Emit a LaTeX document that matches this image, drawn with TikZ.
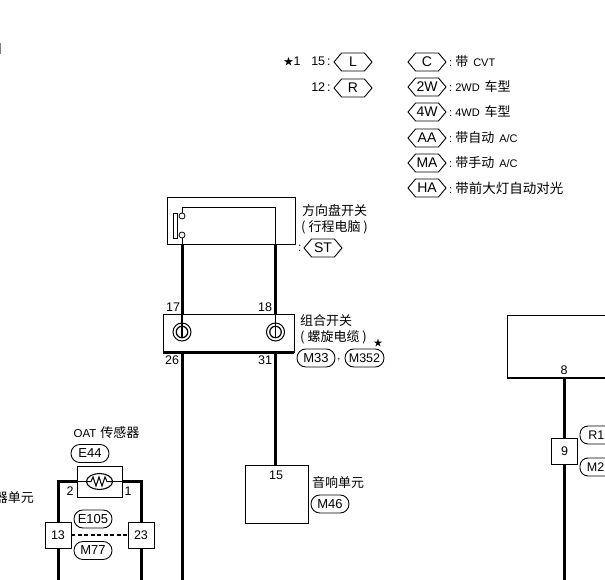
\documentclass[tikz,border=0pt]{standalone}
\usepackage{fontspec}
\setmainfont{Liberation Sans}
\newfontfamily\cjk{Noto Sans CJK SC}
\usetikzlibrary{calc, positioning, shapes.symbols, shapes.geometric}
\newcommand{\zh}[1]{{\cjk\fontsize{13}{14}\selectfont #1}}
\tikzset{
x=1pt, y=-1pt,
every node/.style={inner sep=0pt},
box/.style={draw, line width=0.9pt, fill=white},
wire/.style={line width=3pt},
thinwire/.style={line width=0.8pt},
hexa/.style={draw, line width=0.9pt, shape=signal, signal to=east and west, signal pointer angle=100, minimum width=38pt, minimum height=18pt, font=\fontsize{14}{14}\selectfont},
pill/.style={draw, line width=0.9pt, rectangle, rounded corners=8.9pt, minimum width=38pt, minimum height=18pt, font=\fontsize{13}{13}\selectfont},
pin/.style={font=\fontsize{12.5}{13}\selectfont},
note/.style={anchor=west, font=\fontsize{13}{15}\cjk},
small/.style={anchor=west, font=\fontsize{11}{11}\selectfont},
}

\begin{document}
\begin{tikzpicture}
  \useasboundingbox[fill=white] (0,0) rectangle (605,580);
  \draw[line width=1pt, gray] (0.5,43) -- (0.5,54);

  % option legend
  \node[font=\fontsize{12.5}{13}\selectfont] at (292,62) (star1){{\cjk\fontsize{10}{10}\selectfont ★}1};
  \node[pin] at (321,61) (num15){15\,:};
  \node[hexa] at (353,62) (hexL){L};
  \node[pin] at (321,87) (num12){12\,:};
  \node[hexa] at (353,88) (hexR){R};

  \foreach \y/\t/\n in {62/C/c,87/2W/tw,112/4W/fw,138/AA/aa,163/MA/ma,188/HA/ha}
  {
    \node[hexa] at (427,\y) (hex\n){\t};
  }
  \node[small] at (449,62) (txtc){:\hspace{3pt}\zh{带}\hspace{5pt}CVT};
  \node[small] at (449,87) (txttw){:\hspace{3pt}2WD\hspace{5pt}\zh{车型}};
  \node[small] at (449,112) (txtfw){:\hspace{3pt}4WD\hspace{5pt}\zh{车型}};
  \node[small] at (449,138) (txtaa){:\hspace{3pt}\zh{带自动}\hspace{5pt}A/C};
  \node[small] at (449,163) (txtma){:\hspace{3pt}\zh{带手动}\hspace{5pt}A/C};
  \node[small] at (449,188) (txtha){:\hspace{3pt}{\cjk\fontsize{13.5}{14}\selectfont 带前大灯自动对光}};

  % steering wheel switch
  \node[box, minimum width=128pt, minimum height=47pt] at (231,220.5) (swbox){};
  \draw[thinwire] (173.5,213) rectangle (177,238);
  \node[draw, thinwire, circle, minimum size=6pt] at (182,216) (swa){};
  \node[draw, thinwire, circle, minimum size=6pt] at (182,235) (swb){};
  \coordinate (swc) at (275.5,244);
  \draw[thinwire] (swa.north) |- (275.5,207) -- (swc);
  \draw[thinwire] (swb.south) -- (182,244);
  \node[note] at (302,211) (swname){方向盘开关};
  \node[note] at (301,227) (swnameb){( 行程电脑 )};
  \node[anchor=west, font=\fontsize{12}{12}\selectfont] at (298,248) (swcolon){:};
  \node[hexa] at (323,248) (hexST){ST};

  % combination switch
  \node[box, minimum width=131pt, minimum height=38pt] at (228.5,333) (cmbox){};
  \draw[line width=2.4pt] (cmbox.south west) -- (cmbox.south east);
  \foreach \x/\n in {182/a,275.5/b}
  {
    \node[draw, line width=1pt, circle, minimum size=18pt] at (\x,332) (ring\n){};
    \node[draw, line width=1.2pt, circle, minimum size=11.5pt] at (\x,332) (core\n){};
    \draw[line width=1.2pt] (\x,314) -- (\x,337.5);
  }
  \node[pin] at (173,307) (pin17){17};
  \node[pin] at (265,307) (pin18){18};
  \node[pin] at (172,360) (pin26){26};
  \node[pin] at (265,360) (pin31){31};
  \node[note] at (300,321) (cmname){组合开关};
  \node[note] at (300,337) (cmnameb){( 螺旋电缆 )};
  \node[pill] at (316,358) (m33){M33};
  \node[font=\fontsize{11}{11}\selectfont] at (339,360) (comma){,};
  \node[pill, font=\fontsize{12.5}{13}\selectfont, minimum width=39pt] at (364.5,358) (m352){M352};
  \node[font=\fontsize{9}{9}\cjk] at (378,343) (star2){★};

  % audio unit
  \node[box, minimum width=63pt, minimum height=58pt] at (276.5,494) (audio){};
  \node[pin] at (276,475) (pin15){15};
  \node[note] at (312,483) (audname){音响单元};
  \node[pill] at (330,504) (m46){M46};

  % wires
  \draw[wire] (182,244) -- (182,314);
  \draw[wire] (swc) -- (275.5,314);
  \draw[wire] (182,352) -- (182,580);
  \draw[wire] (275.5,352) -- (275.5,465);

  % OAT sensor
  \node[font=\fontsize{11.5}{12}\selectfont] at (106.5,433) (oat){OAT\hspace{4pt}\zh{传感器}};
  \node[pill] at (90,453.5) (e44){E44};
  \coordinate (ltop) at (58,481);
  \coordinate (rtop) at (141,481);
  \coordinate (lbot) at (58,580);
  \coordinate (rbot) at (141,580);
  \draw[wire] (lbot) -- (ltop) -- (rtop) -- (rbot);
  \node[box, minimum width=45pt, minimum height=31pt] at (99.5,481.5) (oatbox){};
  \draw[thinwire] (oatbox.west) -- (oatbox.east);
  \node[draw, line width=1.1pt, fill=white, ellipse, minimum width=26pt, minimum height=16pt] at (99.5,481.5) (therm){};
  \draw[line width=1pt] (therm.west) -- (91,481.5) -- (93,477) -- (96,486) -- (99,477) -- (102,486) -- (105,477) -- (107,481.5) -- (therm.east);
  \node[pin] at (70,491) (pin2){2};
  \node[pin] at (128,491) (pin1){1};
  \node[anchor=east, font=\fontsize{13}{15}\cjk] at (34,498) (ctrlname){器单元};
  \node[box, pin, minimum size=26pt] at (58,535) (j13){13};
  \node[box, pin, minimum size=26pt] at (141,535) (j23){23};
  \draw[line width=1.6pt, dash pattern=on 4pt off 2.5pt] (j13) -- (j23);
  \node[pill] at (93,519) (e105){E105};
  \node[pill] at (93,550.5) (m77){M77};

  % right unit
  \coordinate (pin8c) at (564,378);
  \draw[line width=0.9pt] (605,315) -- (507,315) -- (507,378);
  \draw[line width=2.4pt] (507,378) -- (605,378);
  \node[pin] at (564,370) (pin8){8};
  \draw[wire] (pin8c) -- (564,580);
  \node[box, pin, minimum size=26pt] at (564.5,451) (j9){9};
  \draw[line width=0.9pt, rounded corners=8pt] (605,426) -- (580,426) -- (580,444) -- (605,444);
  \node[font=\fontsize{12.5}{13}\selectfont, anchor=east] at (604.5,435.5) (r1){R1};
  \draw[line width=0.9pt, rounded corners=8pt] (605,458) -- (580,458) -- (580,476) -- (605,476);
  \node[font=\fontsize{12.5}{13}\selectfont, anchor=east] at (604.5,467.5) (m2){M2};
\end{tikzpicture}
\end{document}
